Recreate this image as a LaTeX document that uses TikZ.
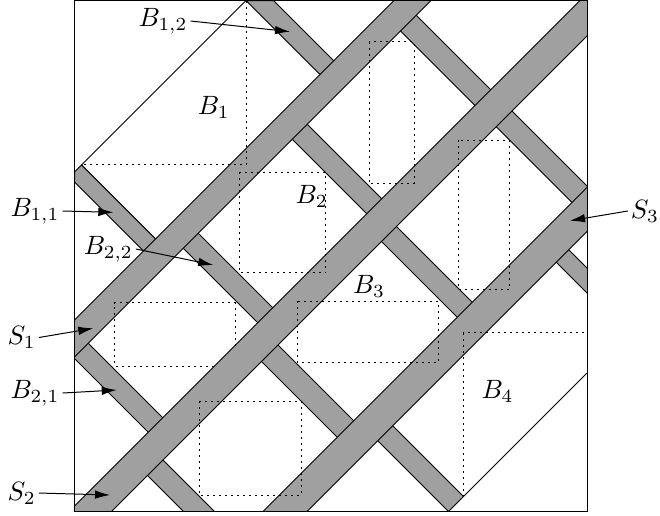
\documentclass[tikz,border=0pt]{standalone}
\usetikzlibrary{arrows.meta}
\definecolor{stripgray}{RGB}{160,160,160}
\begin{document}
\begin{tikzpicture}[x=0.4pt,y=-0.4pt,
  strip/.style={fill=stripgray,draw=black,line width=0.4pt},
  boxline/.style={dash pattern=on 0.8pt off 1.6pt,line width=0.4pt},
  lab/.style={inner sep=1pt,scale=1.06},
  pointer/.style={-{Latex[length=6pt,width=3.4pt]},line width=0.4pt},
  uv/.style={x={(0.2pt,-0.2pt)},y={(0.2pt,0.2pt)}}]
\useasboundingbox (0,0) rectangle (660,515);
\begin{scope}
\clip (74.5,0.5) rectangle (587,511.5);
\begin{scope}[uv]
% down-right segments
\draw[strip] (246.5,-83.3) -- (413,-83.3) -- (413,-107.5) -- (256.5,-107.5) -- (246.5,-97.5) -- cycle;
\draw[strip] (246.5,245.5) -- (274,273) -- (413,273) -- (413,245.5) -- cycle;
\draw[strip] (413,369.5) -- (796.5,369.5) -- (796.5,401) -- (413,401) -- cycle;
\draw[strip] (413,153) -- (601.75,153) -- (601.75,183) -- (413,183) -- cycle;
\draw[strip] (413,-65) -- (601.75,-65) -- (601.75,-35) -- (413,-35) -- cycle;
\draw[strip] (413,-284) -- (601.75,-284) -- (601.75,-255) -- (413,-255) -- cycle;
\draw[strip] (601.75,140) -- (796.5,140) -- (796.5,170) -- (601.75,170) -- cycle;
\draw[strip] (601.75,-100) -- (796.5,-100) -- (796.5,-67) -- (601.75,-67) -- cycle;
\draw[strip] (601.75,-328) -- (796.5,-328) -- (796.5,-297) -- (601.75,-297) -- cycle;
\draw[strip] (796.5,294) -- (1000,294) -- (1000,319) -- (796.5,319) -- cycle;
\draw[strip] (796.5,-33) -- (960,-33) -- (960,-63) -- (796.5,-63) -- cycle;
% separating strips
\draw[strip] (394.5,-450) -- (394.5,600) -- (431.5,600) -- (431.5,-450) -- cycle;
\draw[strip] (580.5,-450) -- (580.5,600) -- (623,600) -- (623,-450) -- cycle;
\draw[strip] (774.5,-450) -- (774.5,600) -- (818.5,600) -- (818.5,-450) -- cycle;
% thin lines
\draw (246.5,245.5) -- (246.5,-83.3);
\draw (960,-33) -- (960,214);
\end{scope}
\end{scope}
% dotted boxes
\draw[boxline] (246,0.5) -- (246,164.9) -- (81.6,164.9);
\draw[boxline] (239,172.3) rectangle (325.7,272.7);
\draw[boxline] (369,41.7) rectangle (414,183.3);
\draw[boxline] (458,140) rectangle (509,289.3);
\draw[boxline] (235,345.5) -- (235,302.7) -- (114.3,302.7) -- (114.3,366) -- (214.5,366);
\draw[boxline] (297,301) rectangle (438.3,362.3);
\draw[boxline] (199.3,401) rectangle (301,495);
\draw[boxline] (463.5,496.5) -- (463.5,332.5) -- (587,332.5);
% frame
\draw (74.5,0.5) rectangle (587,511.5);
% region labels
\node[lab] (lB1) at (213.8,107) {$B_1$};
\node[lab] (lB2) at (311.7,196) {$B_2$};
\node[lab] (lB3) at (369,286) {$B_3$};
\node[lab] (lB4) at (497.5,391) {$B_4$};
% pointer labels
\node[lab] (lB12) at (163,21) {$B_{1,2}$};
\coordinate (tB12) at (290,31.7);
\draw[pointer] (lB12.east) -- (tB12);
\node[lab] (lB11) at (35,211) {$B_{1,1}$};
\coordinate (tB11) at (113.3,212.3);
\draw[pointer] (lB11.east) -- (tB11);
\node[lab] (lB22) at (108.3,249) {$B_{2,2}$};
\coordinate (tB22) at (213.3,265);
\draw[pointer] (lB22.east) -- (tB22);
\node[lab] (lS1) at (21.7,337.5) {$S_1$};
\coordinate (tS1) at (93.3,328.3);
\draw[pointer] (lS1.east) -- (tS1);
\node[lab] (lB21) at (35,393) {$B_{2,1}$};
\coordinate (tB21) at (116.7,390);
\draw[pointer] (lB21.east) -- (tB21);
\node[lab] (lS2) at (21.7,493) {$S_2$};
\coordinate (tS2) at (110,495);
\draw[pointer] (lS2.east) -- (tS2);
\node[lab] (lS3) at (645,211) {$S_3$};
\coordinate (tS3) at (570,220.7);
\draw[pointer] (lS3.west) -- (tS3);
\end{tikzpicture}
\end{document}
